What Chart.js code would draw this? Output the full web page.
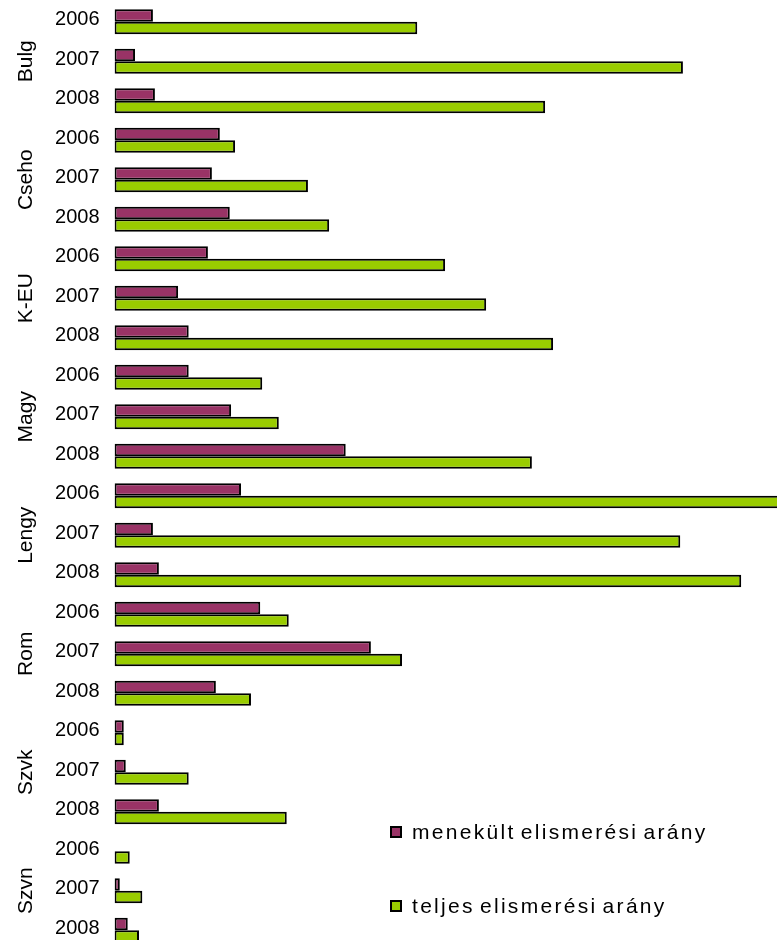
<!DOCTYPE html>
<html>
<head>
<meta charset="utf-8">
<script src="https://cdn.jsdelivr.net/npm/chart.js@4/dist/chart.umd.min.js"></script>
<style>
    html, body { margin: 0; padding: 0; background: #fff; overflow: hidden; }
    #wrap { position: absolute; left: 0; top: 0; width: 777px; height: 952px; }
</style>
</head>
<body>
<div id="wrap"><canvas id="bar-chart"></canvas></div>
<script>
// ------------------------------------------------------
// @Data
// ------------------------------------------------------
const groups = ['Bulg', 'Cseho', 'K-EU', 'Magy', 'Lengy', 'Rom', 'Szvk', 'Szvn'];
const years = ['2006', '2007', '2008'];
const seriesNames = ['menekült elismerési arány', 'teljes elismerési arány'];

// one value per group/year, in the order of groups x years
const refugeeRate = [
    5.8, 3.1, 6.1,
    15.9, 14.7, 17.4,
    14.1, 9.6, 11.2,
    11.2, 17.6, 34.9,
    19.1, 5.8, 6.7,
    22.0, 38.7, 15.3,
    1.4, 1.7, 6.7,
    0, 0.8, 2.0
];
const totalRate = [
    45.7, 85.8, 65.0,
    18.2, 29.2, 32.4,
    49.9, 56.1, 66.2,
    22.3, 24.8, 63.0,
    102, 85.4, 94.6,
    26.3, 43.4, 20.6,
    1.4, 11.2, 26.0,
    2.3, 4.2, 3.7
];

const labels = groups.flatMap(() => years);

// ------------------------------------------------------
// @Plugins
// ------------------------------------------------------
const groupLabels = {
    id: 'groupLabels',
    afterDraw(chart) {
        const ctx = chart.ctx;
        const y = chart.scales.y;
        ctx.save();
        ctx.fillStyle = '#000';
        ctx.font = '21px "Liberation Sans", Arial, sans-serif';
        ctx.textAlign = 'center';
        ctx.textBaseline = 'middle';
        groups.forEach((g, i) => {
            const py = y.getPixelForValue(i * years.length + 1);
            ctx.save();
            ctx.translate(26, py);
            ctx.rotate(-Math.PI / 2);
            ctx.fillText(g, 0, 0);
            ctx.restore();
        });
        ctx.restore();
    }
};

const boxLegend = {
    id: 'boxLegend',
    afterDraw(chart) {
        const ctx = chart.ctx;
        const rows = [832, 906];
        ctx.save();
        ctx.font = '21px "Liberation Sans", Arial, sans-serif';
        ctx.textBaseline = 'middle';
        ctx.textAlign = 'left';
        chart.data.datasets.forEach((ds, i) => {
            const cy = rows[i];
            ctx.fillStyle = ds.backgroundColor;
            ctx.fillRect(390, cy - 6, 12, 12);
            ctx.lineWidth = 2;
            ctx.strokeStyle = '#000';
            ctx.strokeRect(391, cy - 5, 10, 10);
            ctx.fillStyle = '#000';
            ctx.letterSpacing = '2.3px';
            ctx.wordSpacing = '-3px';
            ctx.fillText(ds.label, 412, cy + 1);
        });
        ctx.restore();
    }
};

// ------------------------------------------------------
// @Bar Chart
// ------------------------------------------------------
let barChartBox = document.getElementById('bar-chart');

if (barChartBox) {
    new Chart(barChartBox.getContext('2d'), {
        type: 'bar',
        data: {
            labels: labels,
            datasets: [{
                label: seriesNames[0],
                backgroundColor: '#993366',
                borderColor: '#000',
                borderWidth: 2,
                borderSkipped: false,
                data: refugeeRate
            }, {
                label: seriesNames[1],
                backgroundColor: '#99CC00',
                borderColor: '#000',
                borderWidth: 2,
                borderSkipped: false,
                data: totalRate
            }]
        },
        options: {
            indexAxis: 'y',
            responsive: true,
            maintainAspectRatio: false,
            animation: false,
            categoryPercentage: 0.63,
            barPercentage: 1,
            layout: { padding: { top: 2, bottom: 2, left: 0, right: 0 } },
            plugins: {
                legend: { display: false },
                tooltip: { enabled: false }
            },
            scales: {
                x: {
                    display: false,
                    min: 0,
                    max: 100
                },
                y: {
                    grid: { display: false, drawTicks: false },
                    border: { display: false },
                    ticks: {
                        autoSkip: false,
                        color: '#000',
                        padding: 15,
                        labelOffset: -2,
                        font: { family: '"Liberation Sans", Arial, sans-serif', size: 20 }
                    },
                    afterFit(scale) {
                        scale.width = 114.5;
                        scale.paddingTop = 0;
                        scale.paddingBottom = 0;
                    }
                }
            }
        },
        plugins: [groupLabels, boxLegend]
    });
}
</script>
</body>
</html>
